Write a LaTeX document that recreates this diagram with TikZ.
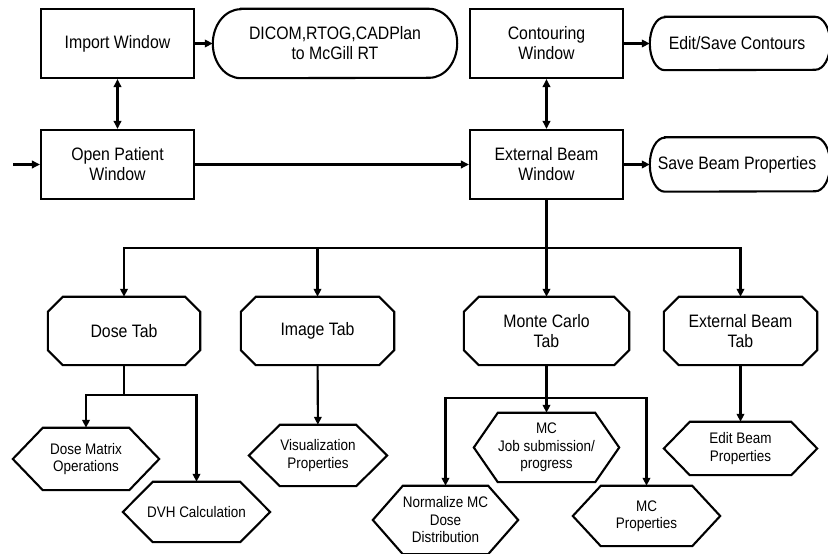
\documentclass[tikz,border=0pt]{standalone}
\usepackage{fontspec}
\setmainfont[FakeStretch=0.88]{Liberation Sans}
\usetikzlibrary{arrows.meta,calc}
\newcommand\stadium[3]{\draw[lw] ($(#1.north west)+(#2,0)$) -- ($(#1.north east)+(-#2,0)$) arc[start angle=90,end angle=-90,x radius=#2,y radius=#3] -- ($(#1.south west)+(#2,0)$) arc[start angle=270,end angle=90,x radius=#2,y radius=#3] -- cycle;}
\newcommand\octa[2]{\draw[lw] ($(#1.north west)+(#2,0)$) -- ($(#1.north east)+(-#2,0)$) -- ($(#1.north east)+(0,-#2)$) -- ($(#1.south east)+(0,#2)$) -- ($(#1.south east)+(-#2,0)$) -- ($(#1.south west)+(#2,0)$) -- ($(#1.south west)+(0,#2)$) -- ($(#1.north west)+(0,-#2)$) -- cycle;}
\newcommand\hexa[2]{\draw[lw] ($(#1.north west)+(#2,0)$) -- ($(#1.north east)+(-#2,0)$) -- (#1.east) -- ($(#1.south east)+(-#2,0)$) -- ($(#1.south west)+(#2,0)$) -- (#1.west) -- cycle;}
\begin{document}
\begin{tikzpicture}[x=1pt,y=1pt,
  lw/.style={line width=2.1pt,line join=miter},
  box/.style={draw,line width=2.1pt,rectangle,inner sep=0pt,align=center,font=\fontsize{18}{20}\selectfont},
  txt/.style={rectangle,inner sep=0pt,align=center,font=\fontsize{18}{20}\selectfont},
  stxt/.style={rectangle,inner sep=0pt,align=center,font=\fontsize{15.3}{17.5}\selectfont},
  arr/.style={line width=2.1pt,-{Triangle[length=8pt,width=7.5pt]}},
  darr/.style={line width=2.1pt,{Triangle[length=8pt,width=7.5pt]}-{Triangle[length=8pt,width=7.5pt]}},
]
\useasboundingbox (0,0) rectangle (828,554);
\clip (0,0) rectangle (828,554);
\fill[white] (0,0) rectangle (828,554);
% top rows
\node[box,minimum width=153,minimum height=69] (imp) at (117.5,510.5) {Import Window};
\node[txt,minimum width=244,minimum height=69] (dic) at (335,510.5) {DICOM,RTOG,CADPlan\\to McGill RT};
\stadium{dic}{28}{34.5}
\node[box,minimum width=153,minimum height=69] (opn) at (117.5,389.5) {Open Patient\\Window};
\node[box,minimum width=153,minimum height=69] (con) at (546.5,510.5) {Contouring\\Window};
\node[txt,minimum width=180,minimum height=53] (eds) at (740,510.5) {\hspace*{-6pt}Edit/Save Contours};
\stadium{eds}{15}{26.5}
\node[box,minimum width=153,minimum height=69] (ext) at (546.5,389.5) {External Beam\\Window};
\node[txt,minimum width=180,minimum height=54] (sbp) at (740,389.5) {\hspace*{-6pt}Save Beam Properties};
\stadium{sbp}{15}{27}
\coordinate (in) at (13,389.5);
% tabs
\node[txt,minimum width=152,minimum height=68] (dose) at (124,223) {Dose Tab};
\octa{dose}{15}
\node[txt,minimum width=153,minimum height=68] (img) at (317.5,223) {Image Tab};
\octa{img}{15}
\node[txt,minimum width=165,minimum height=68] (mct) at (546.5,223) {Monte Carlo\\Tab};
\octa{mct}{15}
\node[txt,minimum width=153,minimum height=68] (ebt) at (740.5,223) {External Beam\\Tab};
\octa{ebt}{15}
% leaves
\node[stxt,minimum width=146,minimum height=62] (dmx) at (86,95) {Dose Matrix\\Operations};
\hexa{dmx}{30}
\node[stxt,minimum width=147,minimum height=60] (dvh) at (196.5,42) {DVH Calculation};
\hexa{dvh}{30}
\node[stxt,minimum width=138,minimum height=61] (vis) at (318,98.5) {Visualization\\Properties};
\hexa{vis}{31}
\node[stxt,minimum width=145,minimum height=69] (mcj) at (546.5,106.5) {MC\\Job submission/\\progress};
\hexa{mcj}{24}
\node[stxt,minimum width=145,minimum height=68] (nrm) at (445.5,34) {Normalize MC\\Dose\\Distribution};
\hexa{nrm}{30}
\node[stxt,minimum width=147,minimum height=60] (mcp) at (646.5,38) {MC\\Properties};
\hexa{mcp}{28}
\node[stxt,minimum width=153,minimum height=53] (ebp) at (740.5,105.5) {Edit Beam\\Properties};
\hexa{ebp}{26}
% connectors
\draw[darr] (imp) -- (opn);
\draw[arr] (imp) -- (dic.west);
\draw[arr] (in) -- (opn);
\draw[arr] (opn) -- (ext);
\draw[darr] (con) -- (ext);
\draw[arr] (con) -- (eds.west);
\draw[arr] (ext) -- (sbp.west);
\coordinate (bus) at (546.5,306);
\draw[lw] (ext.south) -- (bus);
\draw[arr] (bus) -| (dose.north);
\draw[arr] (bus) -| (img.north);
\draw[arr] (bus) -- (mct.north);
\draw[arr] (bus) -| (ebt.north);
\coordinate (ds) at (124,159);
\draw[lw] (dose.south) -- (ds);
\draw[arr] (ds) -| (dmx.north);
\draw[arr] (ds) -| (dvh.north);
\draw[arr] (img) -- (vis);
\coordinate (ms) at (546.5,156);
\draw[lw] (mct.south) -- (ms);
\draw[arr] (ms) -- (mcj.north);
\draw[arr] (ms) -| (nrm.north);
\draw[arr] (ms) -| (mcp.north);
\draw[arr] (ebt) -- (ebp);
\end{tikzpicture}
\end{document}
